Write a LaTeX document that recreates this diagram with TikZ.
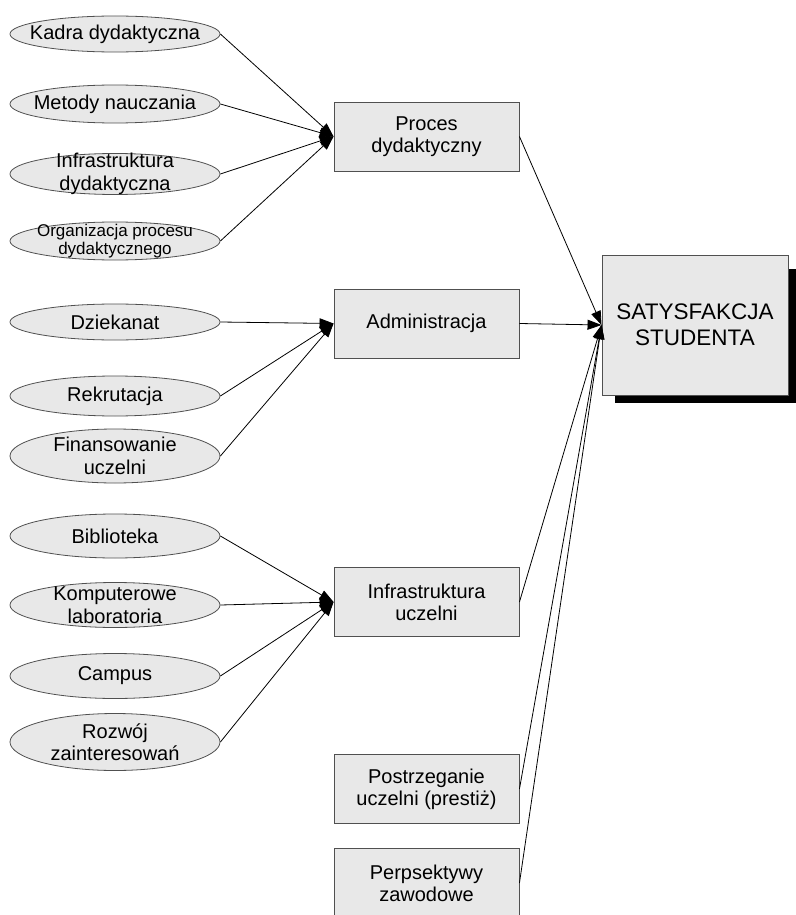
\documentclass[tikz,border=0pt]{standalone}
\usepackage{fontspec}
\setmainfont{Liberation Sans}
\usetikzlibrary{shapes.geometric,arrows.meta}
\definecolor{boxfill}{RGB}{232,232,232}
\definecolor{edgegray}{RGB}{80,80,80}
\begin{document}
\begin{tikzpicture}[x=1pt,y=-1pt,
  oval/.style={ellipse, draw=edgegray, fill=boxfill, line width=0.8pt, minimum width=210pt, inner sep=0pt},
  lbl/.style={align=center, font=\fontsize{20}{22.5}\selectfont},
  lblsmall/.style={align=center, font=\fontsize{17}{18.5}\selectfont},
  stepbox/.style={rectangle, draw=edgegray, fill=boxfill, line width=0.9pt, minimum width=185pt, minimum height=69pt, align=center, font=\fontsize{20}{22}\selectfont},
  bigbox/.style={rectangle, draw=edgegray, fill=boxfill, line width=0.9pt, minimum width=186pt, minimum height=140pt, align=center, font=\fontsize{22.5}{26}\selectfont},
  conn/.style={line width=0.8pt, -{Triangle[length=14pt,width=10pt]}}]
\useasboundingbox (0,0) rectangle (795,915);

% ellipses, group 1
\node[oval, minimum height=36pt, label={[lbl]center:Kadra dydaktyczna}] (kadra) at (115,34) {};
\node[oval, minimum height=38pt, label={[lbl]center:Metody nauczania}] (metody) at (115,104) {};
\node[oval, minimum height=41pt, label={[lbl]center:Infrastruktura\\dydaktyczna}] (infd) at (115,174) {};
\node[oval, minimum height=38pt, label={[lblsmall]center:Organizacja procesu\\dydaktycznego}] (org) at (115,241) {};

% ellipses, group 2
\node[oval, minimum height=36pt, label={[lbl]center:Dziekanat}] (dziek) at (115,322) {};
\node[oval, minimum height=40pt, label={[lbl]center:Rekrutacja}] (rekr) at (115,396) {};
\node[oval, minimum height=54pt, label={[lbl]center:Finansowanie\\uczelni}] (fin) at (115,456) {};

% ellipses, group 3
\node[oval, minimum height=44pt, label={[lbl]center:Biblioteka}] (bibl) at (115,536) {};
\node[oval, minimum height=45pt, label={[lbl]center:Komputerowe\\laboratoria}] (komp) at (115,605) {};
\node[oval, minimum height=45pt, label={[lbl]center:Campus}] (camp) at (115,676) {};
\node[oval, minimum height=57pt, label={[lbl]center:Rozwój\\zainteresowań}] (rozw) at (115,742) {};

% boxes
\node[stepbox] (proc) at (426.5,136.5) {Proces\\dydaktyczny};
\node[stepbox] (adm) at (426.5,323.5) {Administracja};
\node[stepbox] (infu) at (426.5,602) {Infrastruktura\\uczelni};
\node[stepbox] (post) at (426.5,789) {Postrzeganie\\uczelni (prestiż)};
\node[stepbox] (pers) at (426.5,883) {Perpsektywy\\zawodowe};

% big box with shadow
\fill[black] (615,269) rectangle (800,403);
\node[bigbox] (sat) at (695,325) {SATYSFAKCJA\\STUDENTA};

% connectors
\foreach \s in {kadra,metody,infd,org} \draw[conn] (\s.east) -- (proc.west);
\foreach \s in {dziek,rekr,fin} \draw[conn] (\s.east) -- (adm.west);
\foreach \s in {bibl,komp,camp,rozw} \draw[conn] (\s.east) -- (infu.west);
\foreach \s in {proc,adm,infu,post,pers} \draw[conn] (\s.east) -- (sat.west);
\end{tikzpicture}
\end{document}
